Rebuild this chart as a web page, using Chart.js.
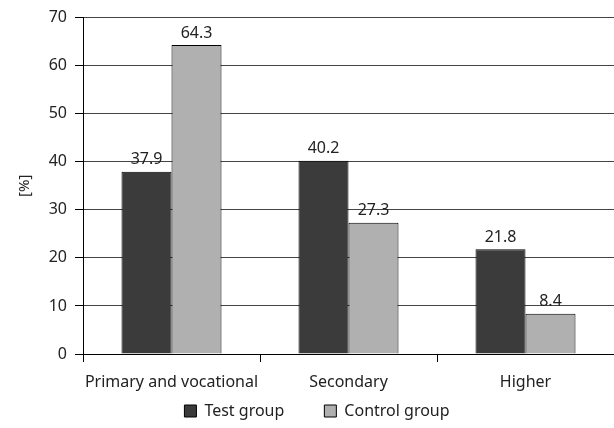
<!DOCTYPE html>
<html><head><meta charset="utf-8">
<script src="https://cdn.jsdelivr.net/npm/chart.js@4"></script>
<style>html,body{margin:0;padding:0;background:#fff}#w{width:614px;height:428px}</style>
</head><body><div id="w"><canvas id="c"></canvas></div>
<script>
const categories = ["Primary and vocational", "Secondary", "Higher"];
const testGroup = [37.9, 40.2, 21.8];
const controlGroup = [64.3, 27.3, 8.4];
const seriesNames = ["Test group", "Control group"];
const yTicks = [0, 10, 20, 30, 40, 50, 60, 70];

const FONT = "'Noto Sans', sans-serif";
const labelPlugin = {
  id: 'vlabels',
  afterLayout(chart) {
    // let the category labels extend into the space shared with the legend
    const x = chart.scales.x;
    x.bottom = Math.max(x.bottom, x.top + 50);
  },
  afterDatasetsDraw(chart) {
    const ctx = chart.ctx;
    ctx.save();
    ctx.font = "16px " + FONT;
    ctx.fillStyle = "#222";
    ctx.textAlign = "center";
    ctx.textBaseline = "bottom";
    chart.data.datasets.forEach((ds, i) => {
      chart.getDatasetMeta(i).data.forEach((bar, j) => {
        ctx.fillText(ds.data[j].toFixed(1), bar.x, bar.y - 4);
      });
    });
    ctx.restore();
  }
};

new Chart(document.getElementById('c'), {
  type: 'bar',
  data: {
    labels: categories,
    datasets: [
      { label: seriesNames[0], data: testGroup, backgroundColor: '#3b3b3b', borderColor: '#000', borderWidth: 1,
        categoryPercentage: 0.565, barPercentage: 1.0 },
      { label: seriesNames[1], data: controlGroup, backgroundColor: '#b0b0b0', borderColor: '#000', borderWidth: 1,
        categoryPercentage: 0.565, barPercentage: 1.0 }
    ]
  },
  options: {
    responsive: true,
    maintainAspectRatio: false,
    animation: false,
    layout: { padding: { top: 10, right: -4, left: 16, bottom: -1 } },
    plugins: {
      legend: {
        position: 'bottom',
        labels: {
          font: { family: FONT, size: 16 }, color: '#222',
          boxWidth: 12, boxHeight: 12, padding: 40, useBorderRadius: false
        }
      },
      tooltip: { enabled: false }
    },
    scales: {
      x: {
        grid: { offset: true, drawOnChartArea: false, color: '#000', tickLength: 8 },
        border: { color: '#000', width: 1 },
        ticks: { font: { family: FONT, size: 16 }, color: '#222', padding: 11, maxRotation: 0 },
        afterFit(s) { s.height = 9; }
      },
      y: {
        min: 0, max: 70,
        afterBuildTicks(s) { s.ticks = yTicks.map(v => ({ value: v })); },
        grid: { color: '#444', tickLength: 8, tickColor: '#000' },
        border: { color: '#000', width: 1 },
        ticks: { font: { family: FONT, size: 16 }, color: '#222', padding: 8 },
        title: { display: true, text: '[%]', font: { family: FONT, size: 15 }, color: '#222', padding: 0 },
        afterFit(s) { s.width = 67; }
      }
    }
  },
  plugins: [labelPlugin]
});
</script></body></html>
